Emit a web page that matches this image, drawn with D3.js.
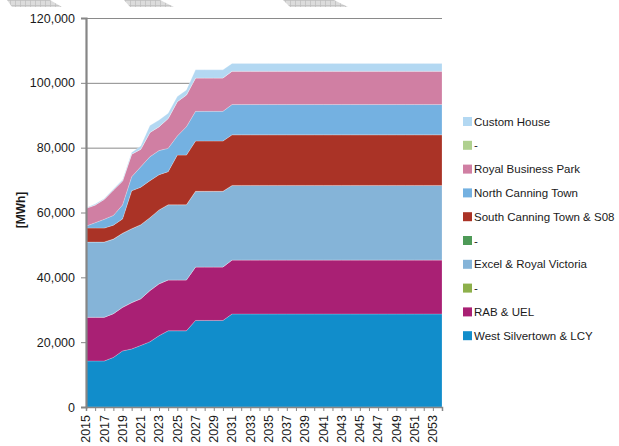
<!DOCTYPE html>
<html>
<head>
<meta charset="utf-8">
<script src="https://cdn.jsdelivr.net/npm/d3@7/dist/d3.min.js"></script>
<style>
  html, body { margin: 0; padding: 0; background: #fff; }
  svg { display: block; font-family: "Liberation Sans", Arial, sans-serif; }
</style>
</head>
<body>
<svg id="chart" width="619" height="446"></svg>
<script>
// Annual heat demand per district, stacked (MWh)
const years = [2015,2016,2017,2018,2019,2020,2021,2022,2023,2024,2025,2026,2027,2028,2029,2030,
  2031,2032,2033,2034,2035,2036,2037,2038,2039,2040,2041,2042,2043,2044,2045,2046,2047,2048,2049,2050,2051,2052,2053,2054];

const westSilvertown = [14200,14200,14200,15300,17300,17900,19000,20100,22000,23500,23500,23500,26700,26700,26700,26700,
  28700,28700,28700,28700,28700,28700,28700,28700,28700,28700,28700,28700,28700,28700,28700,28700,28700,28700,28700,28700,28700,28700,28700,28700];
const rabUel = [13500,13500,13500,13500,13450,14300,14400,15800,16000,15700,15700,15700,16500,16500,16500,16500,
  16650,16650,16650,16650,16650,16650,16650,16650,16650,16650,16650,16650,16650,16650,16650,16650,16650,16650,16650,16650,16650,16650,16650,16650];
const blankA = [0,0,0,0,0,0,0,0,0,0,0,0,0,0,0,0,0,0,0,0,0,0,0,0,0,0,0,0,0,0,0,0,0,0,0,0,0,0,0,0];
const excelRoyalVictoria = [23200,23200,23200,23000,22850,22800,22850,22500,22800,23200,23200,23200,23350,23350,23350,23350,
  23000,23000,23000,23000,23000,23000,23000,23000,23000,23000,23000,23000,23000,23000,23000,23000,23000,23000,23000,23000,23000,23000,23000,23000];
const blankB = [0,0,0,0,0,0,0,0,0,0,0,0,0,0,0,0,0,0,0,0,0,0,0,0,0,0,0,0,0,0,0,0,0,0,0,0,0,0,0,0];
const southCanning = [4300,4300,4300,4300,4400,11700,11550,11400,10850,10200,15300,15300,15500,15500,15500,15500,
  15600,15600,15600,15600,15600,15600,15600,15600,15600,15600,15600,15600,15600,15600,15600,15600,15600,15600,15600,15600,15600,15600,15600,15600];
const northCanning = [600,1650,2700,3000,4300,4300,6300,7400,7450,7200,5900,8750,9150,9150,9150,9150,
  9350,9350,9350,9350,9350,9350,9350,9350,9350,9350,9350,9350,9350,9350,9350,9350,9350,9350,9350,9350,9350,9350,9350,9350];
const royalBusinessPark = [5500,5450,6150,7850,7400,7000,5400,7500,7350,9200,10600,9800,10300,10300,10300,10300,
  10300,10300,10300,10300,10300,10300,10300,10300,10300,10300,10300,10300,10300,10300,10300,10300,10300,10300,10300,10300,10300,10300,10300,10300];
const blankC = [0,0,0,0,0,0,0,0,0,0,0,0,0,0,0,0,0,0,0,0,0,0,0,0,0,0,0,0,0,0,0,0,0,0,0,0,0,0,0,0];
const customHouse = [200,300,300,300,400,500,1000,2100,2050,1600,1550,1550,2500,2500,2500,2500,
  2400,2400,2400,2400,2400,2400,2400,2400,2400,2400,2400,2400,2400,2400,2400,2400,2400,2400,2400,2400,2400,2400,2400,2400];

const yTicks = [0, 20000, 40000, 60000, 80000, 100000, 120000];
const xLabelYears = [2015,2017,2019,2021,2023,2025,2027,2029,2031,2033,2035,2037,2039,2041,2043,2045,2047,2049,2051,2053];

// series, bottom of the stack first
const series = [
  { key: "ws",  name: "West Silvertown & LCY",     values: westSilvertown,     color: "#118dcb" },
  { key: "rab", name: "RAB & UEL",                 values: rabUel,             color: "#a92074" },
  { key: "ba",  name: "-",                         values: blankA,             color: "#8db04b" },
  { key: "ex",  name: "Excel & Royal Victoria",    values: excelRoyalVictoria, color: "#85b4d8" },
  { key: "bb",  name: "-",                         values: blankB,             color: "#4e9a57" },
  { key: "sc",  name: "South Canning Town & S08",  values: southCanning,       color: "#aa3326" },
  { key: "nc",  name: "North Canning Town",        values: northCanning,       color: "#74b1e1" },
  { key: "rbp", name: "Royal Business Park",       values: royalBusinessPark,  color: "#d07fa3" },
  { key: "bc",  name: "-",                         values: blankC,             color: "#afd08f" },
  { key: "ch",  name: "Custom House",              values: customHouse,        color: "#b3d8f2" }
];

const rows = years.map((y, i) => {
  const r = { year: y };
  series.forEach(s => { r[s.key] = s.values[i]; });
  return r;
});

const svg = d3.select("#chart");
const plot = { left: 86, right: 442, top: 18, bottom: 407 };

const x = d3.scaleLinear().domain([years[0], years[years.length - 1]]).range([plot.left, plot.right]);
const y = d3.scaleLinear().domain([0, 120000]).range([plot.bottom, plot.top]);

// decorative hatched tabs along the top edge
const pat = svg.append("defs").append("pattern")
  .attr("id", "hatch").attr("patternUnits", "userSpaceOnUse")
  .attr("width", 5).attr("height", 5);
pat.append("rect").attr("width", 5).attr("height", 5).attr("fill", "#dcdcdc");
pat.append("path").attr("d", "M0,0.5H5M0.5,0V5").attr("stroke", "#bdbdbd").attr("stroke-width", 0.7);
[[7, 50, 62, 12], [124, 160, 174, 130], [283, 334, 348, 290]].forEach(([a, b, c, d]) => {
  svg.append("path")
    .attr("d", `M${a},0L${b},0L${c},7L${d},7Z`)
    .attr("fill", "url(#hatch)");
});

// gridlines
svg.append("g").selectAll("line").data(yTicks.slice(1)).join("line")
  .attr("x1", plot.left).attr("x2", plot.right)
  .attr("y1", d => y(d) + 0.5).attr("y2", d => y(d) + 0.5)
  .attr("stroke", "#8a8a8a").attr("stroke-width", 1);

// stacked areas
const stack = d3.stack().keys(series.map(s => s.key));
const layers = stack(rows);
const area = d3.area()
  .x(d => x(d.data.year))
  .y0(d => y(d[0]))
  .y1(d => y(d[1]));

svg.append("g").selectAll("path").data(layers).join("path")
  .attr("d", area)
  .attr("fill", (d, i) => series[i].color)
  .attr("stroke", "rgba(255,255,255,0.35)")
  .attr("stroke-width", 0.6);

// y axis
const yAxis = d3.axisLeft(y).tickValues(yTicks).tickFormat(d3.format(",")).tickSize(5).tickPadding(6);
const gy = svg.append("g").attr("transform", `translate(${plot.left},0)`).call(yAxis);
gy.select(".domain").attr("stroke", "#868686").attr("stroke-width", 2.2);
gy.selectAll(".tick line").attr("stroke", "#868686");
gy.selectAll(".tick text").attr("fill", "#1a1a1a").attr("font-size", 12.5)
  .attr("font-family", "'Liberation Sans', Arial, sans-serif");

// x axis
const xAxis = d3.axisBottom(x).tickValues(years).tickSize(4).tickFormat("");
const gx = svg.append("g").attr("transform", `translate(0,${plot.bottom})`).call(xAxis);
gx.select(".domain").attr("stroke", "#868686").attr("stroke-width", 1.5);
gx.selectAll(".tick line").attr("stroke", "#868686");

svg.append("g").selectAll("text").data(xLabelYears).join("text")
  .attr("transform", d => `translate(${x(d)},${plot.bottom + 8}) rotate(-90)`)
  .attr("text-anchor", "end")
  .attr("dy", "0.35em")
  .attr("font-size", 12.5)
  .attr("fill", "#1a1a1a")
  .text(d => d);

// y axis title
svg.append("text")
  .attr("transform", "translate(21,210) rotate(-90)")
  .attr("text-anchor", "middle")
  .attr("dy", "0.35em")
  .attr("font-size", 12)
  .attr("font-weight", "bold")
  .attr("fill", "#1a1a1a")
  .text("[MWh]");

// legend, top entry = top of the stack
const legendItems = series.slice().reverse();
const lg = svg.append("g").attr("transform", "translate(463,117)");
const li = lg.selectAll("g").data(legendItems).join("g")
  .attr("transform", (d, i) => `translate(0,${i * 23.8})`);
li.append("rect").attr("width", 9).attr("height", 9).attr("fill", d => d.color);
li.append("text").attr("x", 11).attr("y", 4.5).attr("dy", "0.36em")
  .attr("font-size", 11.5).attr("fill", "#1a1a1a")
  .text(d => d.name);
</script>
</body>
</html>
